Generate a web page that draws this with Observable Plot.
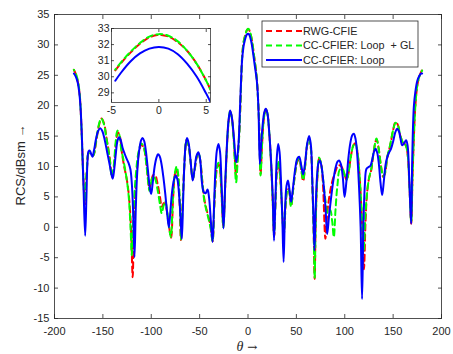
<!DOCTYPE html>
<html><head><meta charset="utf-8">
<script src="https://cdn.jsdelivr.net/npm/d3@7"></script>
<script src="https://cdn.jsdelivr.net/npm/@observablehq/plot@0.6"></script>
<style>
body{margin:0;background:#fff}
#wrap{position:relative;width:453px;height:354px}
#wrap svg{position:absolute;left:0;top:0}
</style>
</head><body><div id="wrap"></div>
<script>
const seriesNames = ["RWG-CFIE", "CC-CFIER: Loop  + GL", "CC-CFIER: Loop"];
const seriesColors = ["#ff0000", "#00ff00", "#0000ff"];
const xTicks = [-200, -150, -100, -50, 0, 50, 100, 150, 200];
const yTicks = [-15, -10, -5, 0, 5, 10, 15, 20, 25, 30, 35];
const insetXTicks = [-5, 0, 5];
const insetYTicks = [29, 30, 31, 32, 33];

// [theta (deg), RCS (dBsm)]
const rwgCfie = [[-180,25.9],[-178,25.2],[-176,24.0],[-174,21.8],[-172,16],[-170.5,9.5],[-168.5,3.8],[-166.5,9.5],[-164.5,12.2],[-162,12.0],[-160,11.8],[-157,14],[-154,16.8],[-151.4,17.9],[-149,17.2],[-146,14.5],[-143,11.5],[-140.5,8.3],[-138.5,10],[-136.5,13.8],[-134.5,15.6],[-132.5,15],[-130.5,12.5],[-128,10],[-126,8.5],[-124,6.5],[-122,3],[-120.5,-2],[-119.2,-8.2],[-117.5,3],[-115,9],[-112.5,12.5],[-110,13.6],[-107.5,13],[-105,10.5],[-103,7.5],[-102,6.2],[-100,7.6],[-98,8.6],[-96,8.6],[-93.5,7.2],[-91,5],[-89,3.4],[-87,4.0],[-85,3.5],[-82.5,1.2],[-79.5,-1.7],[-77.5,4.5],[-75.5,8.8],[-74,9.6],[-72.5,8.5],[-70.5,3.5],[-69.3,-2.1],[-67.5,4],[-65.5,11],[-63.5,14.3],[-61.5,13.5],[-59,10.3],[-57,7.9],[-55,9.5],[-53,11.5],[-51,12.1],[-49,10.5],[-47,7.2],[-45,4.5],[-43,3.0],[-40.5,1.5],[-38.5,0],[-36.6,-2.3],[-35,3],[-33.5,7.5],[-32,9.8],[-30.5,10.4],[-29,9.5],[-27.5,6],[-25.5,0.2],[-23.5,7],[-21.5,14],[-20,17.5],[-18.4,19.1],[-16.5,17.8],[-14.5,14],[-12.3,8.5],[-10.5,12],[-9,15.5],[-8,19.5],[-7,24.3],[-6,28.2],[-4.6,30.4],[-4,30.85],[-3,31.5],[-2,32.05],[-1,32.45],[0,32.6],[1,32.5],[2,32.15],[3,31.6],[4,30.8],[5,29.75],[6,28.5],[7,27.3],[8,26.1],[9,24.6],[10,22.3],[11.5,17],[13,8.8],[14.5,13.5],[16.5,18],[18.4,19.4],[20,18.8],[22,15.5],[24,10],[25.5,4.5],[27,-1.5],[28.5,4.5],[30,9.5],[31.2,10.5],[32.5,9.5],[34.5,5],[37,-1.0],[39,4],[40.5,6],[42,6.3],[44.5,3.5],[46.5,6],[49,9.2],[51,10.8],[53,11.2],[55,9.5],[57,7.6],[59,10],[61,13.3],[63,14.6],[65,13],[66.5,7],[67.8,0],[68.9,-8.5],[70,1],[71.5,7.5],[73.5,11.3],[75.5,10.5],[77.5,7],[80,-1.9],[82,2.5],[84.5,5.5],[87,7.5],[90,9],[93.5,10.2],[96.5,10],[99.5,8.8],[102,7.8],[104,9],[106.5,11.8],[109,13.5],[111,13.8],[113,12.5],[115.5,8],[117.5,2],[119.8,-6.9],[121.5,1],[123,5.5],[125,8],[127.5,9.5],[130,12.5],[132.8,14.5],[135,13],[137.5,10],[139.7,8.3],[141.5,8.8],[144,11.5],[147,13.5],[150,16],[152.5,17.3],[155,16.8],[157.5,15],[160,14],[163,13.5],[165,12],[166.8,7],[168.7,0.6],[170,8],[171.5,15],[173,20],[175,23.3],[177.5,25],[180,25.9]];

const ccLoopGL = [[-180,25.9],[-178,25.3],[-176,24.2],[-174,22],[-172.2,16.5],[-170.6,9.5],[-168.6,4.3],[-166.6,9.5],[-164.6,12.2],[-162,12.0],[-160,11.8],[-157,14.2],[-154,17],[-151.6,17.9],[-149,17.0],[-146,14.3],[-143,11.3],[-140.7,8.3],[-138.7,10.2],[-136.8,14],[-135,15.9],[-133,15.2],[-131,12.8],[-129,11.3],[-127,9.5],[-125,7.5],[-123,4.5],[-121.3,-0.5],[-120.1,-4.6],[-118.5,2],[-116,8.5],[-113,12.5],[-110.3,13.8],[-107.8,13.2],[-105.2,10.5],[-103,7.2],[-101.8,6.0],[-100,7.5],[-98,8.4],[-96,8.0],[-93.5,6.2],[-91,3.8],[-89.2,2.3],[-87.2,3.6],[-85.5,4.3],[-83,2],[-79.8,-1.6],[-77.7,4.5],[-75.5,9],[-73.7,10],[-72,8.5],[-70.3,3.5],[-69.2,-2.0],[-67.5,4],[-65.5,11],[-63.5,14.4],[-61.5,13.5],[-59,10.3],[-57,7.9],[-55,9.6],[-53,11.6],[-51,12.2],[-49,10.5],[-47,7],[-45,4.2],[-43,2.8],[-40.5,1.2],[-38.5,-0.3],[-36.6,-2.3],[-35,3],[-33.5,7.8],[-32,10],[-30.5,10.6],[-29,9.6],[-27.5,6],[-25.5,0],[-23.5,7],[-21.5,14],[-20,17.6],[-18.4,19.2],[-16.5,17.7],[-14.5,13.5],[-12.3,7.4],[-10.5,11.5],[-9,15.3],[-8,19.5],[-7,24.3],[-6,28.2],[-4.6,30.45],[-4,30.9],[-3,31.55],[-2,32.1],[-1,32.5],[0,32.65],[1,32.55],[2,32.2],[3,31.6],[4,30.8],[5,29.75],[6,28.5],[7,27.3],[8,26.1],[9,24.6],[10,22.2],[11.5,17],[13,8.5],[14.5,13.5],[16.5,18],[18.4,19.4],[20,18.8],[22,15.5],[24,10],[25.5,4.5],[27,-1.2],[28.5,4.5],[30,9.8],[31.2,10.9],[32.5,9.8],[34.5,5],[37,-1.2],[39,4],[40.5,6],[42,6.3],[44.5,3.4],[46.5,6],[49,9.3],[51,11],[53,11.3],[55,9.6],[57,7.8],[59,10],[61,13.4],[63,14.6],[65,13],[66.5,7],[67.8,0],[68.9,-8.3],[70,1],[71.5,7.8],[73.5,11.5],[75.5,10.5],[77.5,8],[80,4.5],[82.5,2.3],[85,2.8],[87,1],[88.7,-1.6],[90.5,3],[92.5,7],[95,9.5],[98,9.5],[100,8.6],[102,7.8],[104,9],[106.5,11.8],[109,13.5],[111,13.8],[113,12.5],[115.5,8],[117.5,2.5],[119.5,-4],[121.2,1.5],[123,5.5],[125,8],[127.5,9.7],[130,12.6],[132.8,14.6],[135,13],[137.5,10],[139.7,8.4],[141.5,8.9],[144,11.6],[147,13.6],[150,16],[152.5,17.2],[155,16.7],[157.5,15],[160,14],[163,13.5],[165,12],[166.8,7],[168.7,0.8],[170,8],[171.5,15],[173,20],[175,23.4],[177.5,25],[180,25.8]];

const ccLoop = [[-180,25.3],[-178,24.8],[-176,23.8],[-174.5,22.3],[-173,19.5],[-171.5,14],[-170,6.5],[-168.3,-1.4],[-167,5],[-166,10.5],[-164.8,12.5],[-163.5,12.6],[-162,12],[-160.8,11.6],[-159,12.8],[-157,14.6],[-155,15.8],[-152.8,16.3],[-150.5,15.8],[-148,14.3],[-145.5,12.3],[-143,10.3],[-141,8.6],[-139.8,8.0],[-138.3,9.5],[-136.5,12.3],[-134.8,14.3],[-133.2,14.8],[-131.5,14.3],[-129.5,13],[-127.5,12.1],[-125.5,11.3],[-123.5,10.6],[-121.5,9.5],[-120,7],[-118.6,2],[-117.3,-4.9],[-116,3],[-114.5,9],[-112.5,12.6],[-110.5,14.3],[-109,14.7],[-107.3,14.2],[-105.5,12.5],[-103.5,9.5],[-101.5,6.5],[-100.1,5.5],[-98.5,7.3],[-96.5,10],[-94.5,11.5],[-93,12],[-91.3,11.7],[-89.5,10.5],[-87.5,8.3],[-85.5,5.5],[-83.5,2.2],[-81.8,0],[-80.3,2.5],[-78.5,5.8],[-76.5,7.8],[-74.7,8.5],[-73,7.9],[-71.3,5.5],[-69.7,1.5],[-68.4,-1.9],[-67.2,3.5],[-66,9.5],[-64.5,13.5],[-63,14.7],[-61.3,13.8],[-59.5,11.2],[-57.2,7.7],[-55.3,9.5],[-53.3,11.7],[-51.3,12.35],[-49.5,11.2],[-47.7,7.5],[-45.8,5.8],[-43.8,5.6],[-41.8,6.2],[-40.2,4.8],[-38.6,1.5],[-36.6,-2.4],[-35.2,3],[-33.8,9],[-32.2,12.6],[-30.5,13.7],[-28.9,12.4],[-27.4,7.5],[-25.3,-0.2],[-23.6,7],[-21.8,13.5],[-20.1,17.6],[-18.4,19.2],[-16.6,18],[-14.6,14.8],[-12.2,10.7],[-10.6,12.2],[-9.5,14.5],[-8.3,19.5],[-7.2,24],[-6.2,27.3],[-4.6,29.75],[-4,30.25],[-3,30.95],[-2,31.45],[-1,31.75],[0,31.85],[1,31.75],[2,31.4],[3,30.8],[4,30.0],[5,28.95],[6,27.8],[7,26.6],[8,25.5],[9,24.3],[10,22.3],[11,18.5],[12.2,10.4],[13.5,13.5],[15,16.6],[16.8,18.9],[18.4,19.5],[20,18.8],[22,15.5],[24,10.5],[25.6,5],[26.9,-2.2],[28.4,5],[29.8,11.5],[31.2,13.7],[32.6,12.4],[34,8],[35.4,2],[36.8,-5.7],[38.3,3],[39.8,6.8],[41.3,7.7],[43,6.0],[44.6,4.2],[46.5,6.5],[48.8,9.6],[51,11.3],[52.9,11.6],[55,10.2],[57,8.7],[59,10.6],[61.2,13.8],[63.2,15.0],[65,13.5],[66.4,8],[67.6,2],[68.7,-3.8],[69.9,3],[71.4,8.5],[72.9,10.6],[74.3,11.0],[76,10],[78,7.3],[80,3.5],[81.9,-1.1],[83.7,1.8],[86,5],[88.3,7.8],[90.5,9.8],[92.5,10.8],[94.2,11.0],[96,10.4],[98,8.2],[99.8,5.0],[101.7,7.5],[103.7,11.3],[105.7,13.8],[107.6,15.1],[109.4,15.4],[111.2,14.5],[113,11.7],[114.8,6.5],[116.4,0],[117.9,-11.8],[119.3,0.5],[120.8,7],[122.4,9.6],[124.5,9.9],[126.5,10.1],[128.5,11.2],[130.2,12.4],[131.8,12.9],[133.5,12.3],[135.2,10.5],[137,7.3],[138.7,5.3],[140.4,7.6],[142.2,10.3],[143.9,11.5],[145.8,12.3],[147.8,12.9],[150,14.1],[152.2,15.6],[154.2,16.2],[156,15.8],[157.6,14.6],[159.4,13.5],[161.3,13.8],[163.4,14.3],[165,13.4],[166.4,9],[167.6,4],[168.7,0.6],[169.7,11],[171.4,19.8],[173,22.3],[175,24.1],[177,24.9],[179,25.3],[180,25.3]];

const allSeries = [rwgCfie, ccLoopGL, ccLoop];
const font = "'Liberation Sans', Arial, Helvetica, sans-serif";
const axisColor = "#262626";
const fmt = d => String(d);

function seriesMarks(filterFn, clip, offsets) {
  return allSeries.map((s, i) => Plot.line(s.filter(filterFn), {
    x: d => d[0], y: d => d[1],
    stroke: seriesColors[i],
    strokeWidth: 2,
    strokeDasharray: i < 2 ? "6,4" : null,
    strokeDashoffset: offsets[i],
    curve: "catmull-rom",
    clip
  }));
}

const main = Plot.plot({
  width: 453, height: 354,
  marginLeft: 54, marginRight: 12, marginTop: 14, marginBottom: 36,
  x: {domain: [-200, 200]},
  y: {domain: [-15, 35]},
  style: {fontFamily: font, fontSize: "11px", color: axisColor, background: "white"},
  marks: [
    ...seriesMarks(() => true, false, [0, 5, 0]),
    Plot.frame({stroke: axisColor, strokeWidth: 0.8}),
    Plot.axisX({ticks: xTicks, tickFormat: fmt, tickSize: 0, tickPadding: 9, label: null, fill: "#262626"}),
    Plot.axisY({ticks: yTicks, tickFormat: fmt, tickSize: 0, tickPadding: 5, label: null, fill: "#262626"}),
    Plot.axisX({ticks: xTicks, anchor: "bottom", tickSize: -4, fill: "none", label: null, strokeWidth: 0.8}),
    Plot.axisX({ticks: xTicks, anchor: "top", tickSize: -4, fill: "none", label: null, strokeWidth: 0.8}),
    Plot.axisY({ticks: yTicks, anchor: "left", tickSize: -4, fill: "none", label: null, strokeWidth: 0.8}),
    Plot.axisY({ticks: yTicks, anchor: "right", tickSize: -4, fill: "none", label: null, strokeWidth: 0.8})
  ]
});

const inset = Plot.plot({
  width: 453, height: 354,
  marginLeft: 111, marginRight: 243, marginTop: 28, marginBottom: 252,
  x: {domain: [-5, 5.45]},
  y: {domain: [28.4, 33]},
  style: {fontFamily: font, fontSize: "10.5px", color: axisColor, background: "none"},
  marks: [
    Plot.frame({fill: "white"}),
    ...seriesMarks(d => d[0] >= -4.7 && d[0] <= 7, true, [0, 5, 0]),
    Plot.frame({stroke: "#3a3a3a", strokeWidth: 0.8}),
    Plot.axisX({ticks: insetXTicks, tickFormat: fmt, tickSize: 0, tickPadding: 4, label: null, fill: "#262626"}),
    Plot.axisY({ticks: insetYTicks, tickFormat: fmt, tickSize: 0, tickPadding: 2, label: null, fill: "#262626"}),
    Plot.axisX({ticks: insetXTicks, anchor: "bottom", tickSize: -3, fill: "none", label: null, strokeWidth: 0.8}),
    Plot.axisX({ticks: insetXTicks, anchor: "top", tickSize: -3, fill: "none", label: null, strokeWidth: 0.8}),
    Plot.axisY({ticks: insetYTicks, anchor: "left", tickSize: -3, fill: "none", label: null, strokeWidth: 0.8}),
    Plot.axisY({ticks: insetYTicks, anchor: "right", tickSize: -3, fill: "none", label: null, strokeWidth: 0.8})
  ]
});

const svg = d3.select(main);
// axis titles
svg.append("text")
  .attr("transform", "translate(20,165) rotate(-90)")
  .attr("text-anchor", "middle").attr("dy", "0.35em")
  .attr("font-family", font).attr("font-size", 13).attr("fill", axisColor)
  .text("RCS/dBsm \u2192");
const xl = svg.append("text")
  .attr("x", 247).attr("y", 351).attr("text-anchor", "middle")
  .attr("fill", axisColor);
xl.append("tspan").attr("font-family", "'Liberation Serif', 'DejaVu Serif', serif")
  .attr("font-style", "italic").attr("font-size", 14).text("\u03b8");
xl.append("tspan").attr("font-family", "'DejaVu Serif', serif").attr("font-size", 12).text(" \u2192");

// legend
const lg = svg.append("g").attr("transform", "translate(262,21)");
lg.append("rect").attr("width", 156).attr("height", 46)
  .attr("fill", "white").attr("stroke", axisColor).attr("stroke-width", 0.8);
seriesNames.forEach((name, i) => {
  const y = 10 + i * 14.5;
  lg.append("line").attr("x1", 4).attr("x2", 40).attr("y1", y).attr("y2", y)
    .attr("stroke", seriesColors[i]).attr("stroke-width", 2)
    .attr("stroke-dasharray", i < 2 ? "6,4" : null);
  lg.append("text").attr("x", 41).attr("y", y).attr("dy", "0.36em")
    .attr("text-anchor", "start")
    .attr("font-family", font).attr("font-size", 10.8).attr("fill", axisColor)
    .style("white-space", "pre")
    .text(name);
});

const wrap = document.getElementById("wrap");
wrap.appendChild(main);
wrap.appendChild(inset);
</script>
</body></html>
